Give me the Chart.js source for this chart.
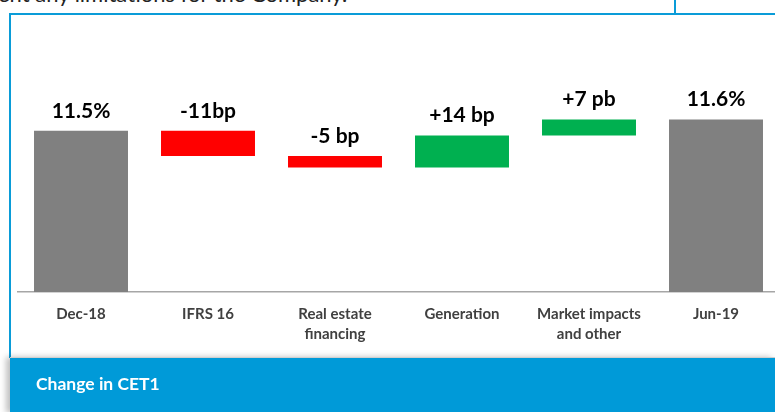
<!DOCTYPE html>
<html>
<head>
<meta charset="utf-8">
<script src="https://cdn.jsdelivr.net/npm/chart.js@4/dist/chart.umd.min.js"></script>
<style>
  html, body { margin:0; padding:0; width:775px; height:412px; overflow:hidden; background:#fff; position:relative; }
  #topText { position:absolute; left:-2px; top:-19px; font-family:Lato, "Open Sans", sans-serif; font-size:22px; color:#222; white-space:nowrap; line-height:26px; }
  #topLine { position:absolute; left:9px; top:13px; width:766px; height:2px; background:#0A9CD8; }
  #leftLine { position:absolute; left:9px; top:13px; width:2px; height:345px; background:#0A9CD8; }
  #smallLine { position:absolute; left:674px; top:0; width:2px; height:14px; background:#0A9CD8; }
  #band { position:absolute; left:10px; top:357px; width:765px; height:55px; background:#009AD8; border-top:1px solid #d0d0d0; box-shadow:-4px 0 6px rgba(0,0,0,0.25); }
  #bandText { position:absolute; left:26px; top:15px; font-family:Lato, "Open Sans", sans-serif; font-weight:bold; font-size:17.5px; color:#fff; }
  #c { position:absolute; left:0; top:0; }
</style>
</head>
<body>
<div id="topText">ent any limitations for the Company.</div>
<div id="smallLine"></div>
<canvas id="c" width="800" height="352"></canvas>
<div id="topLine"></div>
<div id="leftLine"></div>
<div id="band"><div id="bandText">Change in CET1</div></div>
<script>
// ---- data (CET1 ratio, %) ----
const categories = [['Dec-18'], ['IFRS 16'], ['Real estate', 'financing'], ['Generation'], ['Market impacts', 'and other'], ['Jun-19']];
const startValue = 11.50;
const changes = [-0.11, -0.05, 0.14, 0.07];
const endValue = 11.55;
const valueLabels = ['11.5%', '-11bp', '-5 bp', '+14 bp', '+7 pb', '11.6%'];
const axisMin = 10.795;
const axisMax = 11.985;

// ---- build floating bars ----
const bars = [];
const colors = [];
bars.push([axisMin, startValue]);
colors.push('#808080');
let running = startValue;
changes.forEach(c => {
  const next = running + c;
  bars.push([running, next]);
  colors.push(c < 0 ? '#FF0000' : '#00B050');
  running = next;
});
bars.push([axisMin, endValue]);
colors.push('#808080');

const labelPlugin = {
  id: 'valueLabels',
  afterDatasetsDraw(chart) {
    const ctx = chart.ctx;
    const meta = chart.getDatasetMeta(0);
    ctx.save();
    ctx.font = 'bold 21px Lato, "Open Sans", sans-serif';
    ctx.fillStyle = '#000';
    ctx.textAlign = 'center';
    ctx.textBaseline = 'alphabetic';
    meta.data.forEach((el, i) => {
      const top = Math.min(el.y, el.base);
      ctx.fillText(valueLabels[i], el.x, top - 13);
    });
    ctx.restore();
  }
};

new Chart(document.getElementById('c'), {
  type: 'bar',
  data: {
    labels: categories,
    datasets: [{
      data: bars,
      backgroundColor: colors,
      borderWidth: 0,
      categoryPercentage: 1,
      barPercentage: 0.74
    }]
  },
  options: {
    responsive: false,
    animation: false,
    devicePixelRatio: 1,
    layout: { padding: { left: 17.5, right: 20.5, top: 20, bottom: 0 } },
    plugins: { legend: { display: false }, tooltip: { enabled: false } },
    scales: {
      x: {
        grid: { display: false, drawTicks: false },
        border: { display: true, color: '#a6a6a6', width: 1.5 },
        ticks: {
          color: '#404040',
          font: { family: 'Lato, "Open Sans", sans-serif', weight: 'bold', size: 15, lineHeight: 1.35 },
          padding: 12,
          maxRotation: 0,
          autoSkip: false
        },
        afterFit(scale) { scale.height = 60; }
      },
      y: {
        display: false,
        min: axisMin,
        max: axisMax
      }
    }
  },
  plugins: [labelPlugin]
});
</script>
</body>
</html>
